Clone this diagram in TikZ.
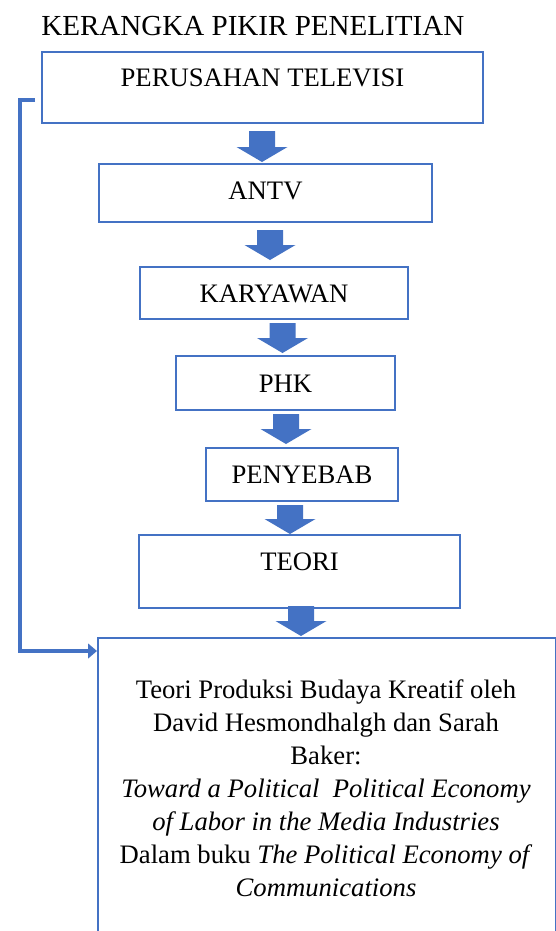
\documentclass[tikz,border=0pt]{standalone}
\usepackage{fontspec}
\setmainfont{Liberation Serif}
\usetikzlibrary{arrows.meta,calc}
\definecolor{ob}{HTML}{4472C4}
\newcommand\blkarrow[3]{% center x, top y, tip y
  \fill[ob] ({#1-13},#2) -- ({#1+13},#2) -- ({#1+13},{#3-15}) -- ({#1+25.5},{#3-15})
    -- (#1,#3) -- ({#1-25.5},{#3-15}) -- ({#1-13},{#3-15}) -- cycle;}
\newcommand\bx[5]{% name, x1, y1, x2, y2
  \node[box, anchor=north west, minimum width={(#4-#2)*0.75pt}, minimum height={(#5-#3)*0.75pt}] (#1) at (#2,#3) {};}
\begin{document}
\begin{tikzpicture}[x=0.75pt,y=-0.75pt,
  box/.style={draw=ob, line width=1.5pt, inner sep=0pt, fill=white},
  txt/.style={inner sep=0pt, font=\fontsize{20}{24.75}\selectfont},
  conn/.style={draw=ob, line width=3pt, -{Triangle[length=6.75pt,width=11pt]}}]
\useasboundingbox (0,0) rectangle (556,931);
\clip (0,0) rectangle (556,931);
\fill[white] (0,0) rectangle (556,931);
\node[inner sep=0pt, anchor=base west, font=\fontsize{21.8}{25}\selectfont] (title) at (41,36) {KERANGKA PIKIR PENELITIAN};
\bx{b1}{41}{51}{482}{122}
\bx{b2}{98}{163}{431}{221}
\bx{b3}{139}{266}{407}{318}
\bx{b4}{175}{355}{394}{409}
\bx{b5}{205}{447}{397}{500}
\bx{b6}{138}{534}{459}{607}
\bx{b7}{97}{637}{555}{960}
\node[txt, anchor=base] (t1) at ($(b1.north)+(0,36)$) {PERUSAHAN TELEVISI};
\node[txt, anchor=base] (t2) at ($(b2.north)+(0,36)$) {ANTV};
\node[txt, anchor=base] (t3) at ($(b3.north)+(0,36)$) {KARYAWAN};
\node[txt, anchor=base] (t4) at ($(b4.north)+(0,37)$) {PHK};
\node[txt, anchor=base] (t5) at ($(b5.north)+(0,36)$) {PENYEBAB};
\node[txt, anchor=base] (t6) at ($(b6.north)+(0,36)$) {TEORI};
\node[txt, anchor=north, align=center] (t7) at (326,679) {Teori Produksi Budaya Kreatif oleh\\
David Hesmondhalgh dan Sarah\\
Baker:\\
\textit{Toward a Political\ \ Political Economy}\\
\textit{of Labor in the Media Industries}\\
Dalam buku \textit{The Political Economy of}\\
\textit{Communications}};
\blkarrow{262}{131}{162}
\blkarrow{270}{230}{260}
\blkarrow{282.5}{323}{353}
\blkarrow{286}{414}{444}
\blkarrow{290}{505}{534}
\blkarrow{301}{606}{636}
\coordinate (c0) at (35,99.5);
\coordinate (c1) at ($(b7.north west)+(0,14)$);
\draw[conn] (c0) -- (19.5,99.5) |- (c1);
\end{tikzpicture}
\end{document}
